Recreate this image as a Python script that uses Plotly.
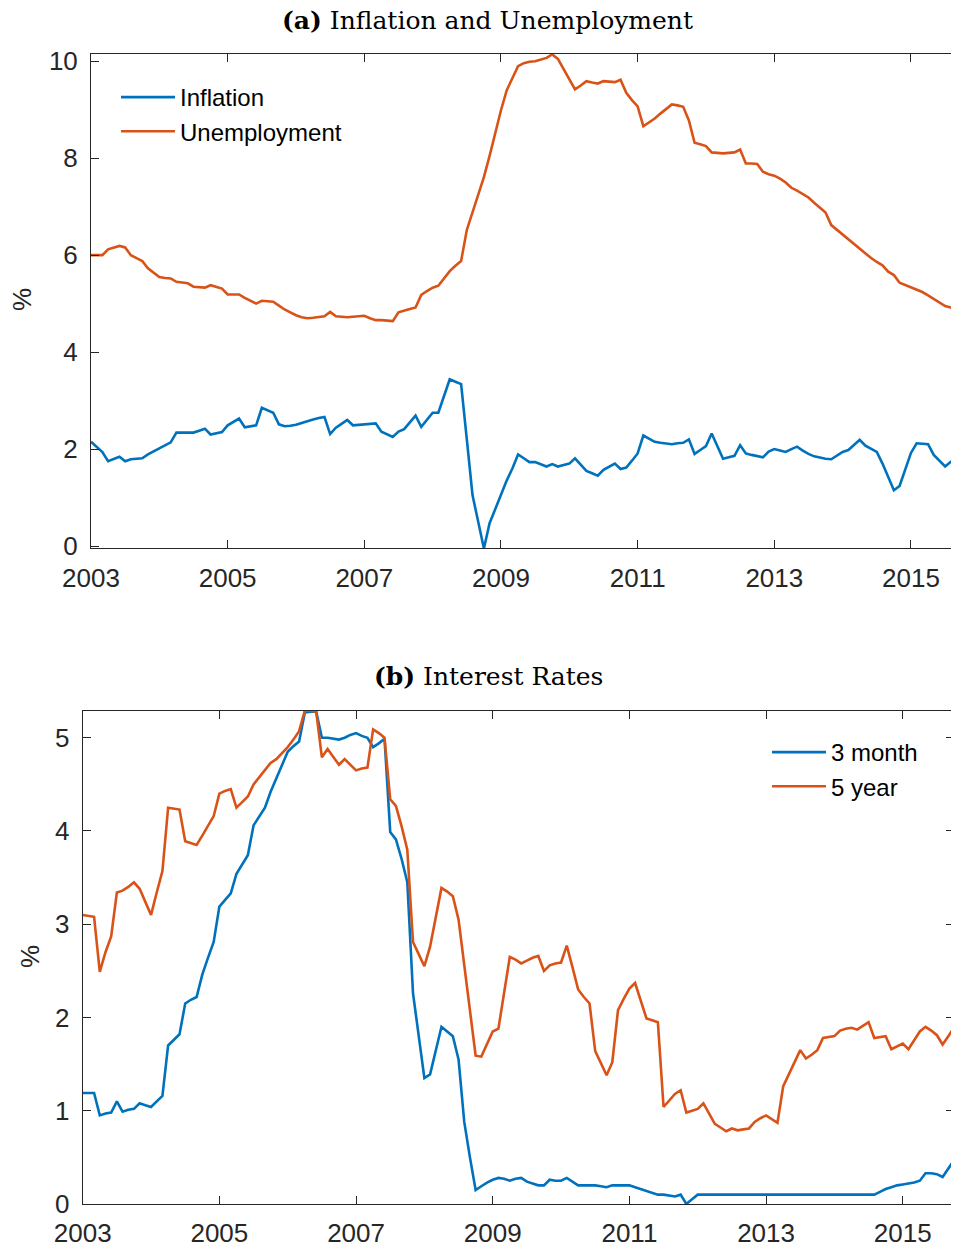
import pandas as pd
import plotly.graph_objects as go

# ---------------- data (monthly, Jan 2003 - Oct 2015) ----------------
months = pd.date_range("2003-01-01", periods=154, freq="MS")

inflation = [
    2.15, 2.05, 1.94, 1.75, 1.80, 1.84, 1.75, 1.79, 1.80, 1.81, 1.89, 1.95,
    2.01, 2.08, 2.14, 2.34, 2.34, 2.34, 2.34, 2.38, 2.42, 2.30, 2.33, 2.35,
    2.49, 2.56, 2.63, 2.45, 2.47, 2.49, 2.85, 2.80, 2.75, 2.51, 2.47, 2.48,
    2.50, 2.54, 2.58, 2.61, 2.64, 2.66, 2.31, 2.44, 2.52, 2.60, 2.49, 2.50,
    2.50, 2.52, 2.53, 2.36, 2.30, 2.25, 2.36, 2.41, 2.55, 2.69, 2.46, 2.60,
    2.75, 2.75, 3.10, 3.44, 3.39, 3.34, 2.20, 1.05, 0.50, -0.05, 0.47, 0.77,
    1.05, 1.35, 1.60, 1.89, 1.81, 1.73, 1.73, 1.68, 1.64, 1.69, 1.64, 1.67,
    1.70, 1.81, 1.68, 1.55, 1.50, 1.45, 1.57, 1.63, 1.70, 1.59, 1.62, 1.76,
    1.91, 2.28, 2.21, 2.15, 2.13, 2.11, 2.10, 2.12, 2.13, 2.20, 1.90, 1.98,
    2.06, 2.32, 2.06, 1.80, 1.83, 1.86, 2.08, 1.91, 1.88, 1.86, 1.83, 1.95,
    2.00, 1.97, 1.94, 2.00, 2.05, 1.97, 1.90, 1.85, 1.82, 1.80, 1.79, 1.86,
    1.94, 1.98, 2.08, 2.19, 2.07, 2.01, 1.94, 1.70, 1.42, 1.15, 1.24, 1.58,
    1.92, 2.12, 2.11, 2.10, 1.88, 1.76, 1.64, 1.74, 1.74, 1.74,
]

unemployment = [
    6.00, 6.00, 6.00, 6.12, 6.16, 6.19, 6.16, 6.00, 5.94, 5.88, 5.73, 5.64,
    5.55, 5.53, 5.52, 5.45, 5.44, 5.42, 5.35, 5.34, 5.33, 5.38, 5.34, 5.31,
    5.19, 5.19, 5.19, 5.12, 5.06, 5.00, 5.06, 5.05, 5.04, 4.96, 4.88, 4.82,
    4.76, 4.72, 4.70, 4.71, 4.73, 4.74, 4.83, 4.74, 4.73, 4.72, 4.73, 4.74,
    4.75, 4.70, 4.66, 4.66, 4.65, 4.64, 4.82, 4.86, 4.89, 4.92, 5.18, 5.26,
    5.33, 5.37, 5.52, 5.67, 5.78, 5.88, 6.52, 6.90, 7.25, 7.61, 8.05, 8.55,
    8.99, 9.40, 9.65, 9.90, 9.96, 9.99, 10.00, 10.03, 10.07, 10.14, 10.05, 9.84,
    9.63, 9.42, 9.50, 9.59, 9.56, 9.54, 9.59, 9.58, 9.57, 9.62, 9.35, 9.20,
    9.07, 8.66, 8.74, 8.82, 8.92, 9.02, 9.11, 9.09, 9.06, 8.78, 8.32, 8.29,
    8.25, 8.12, 8.11, 8.10, 8.11, 8.12, 8.18, 7.89, 7.89, 7.88, 7.72, 7.67,
    7.64, 7.58, 7.50, 7.39, 7.33, 7.26, 7.19, 7.08, 6.98, 6.88, 6.62, 6.52,
    6.43, 6.33, 6.22, 6.12, 6.03, 5.94, 5.86, 5.79, 5.66, 5.59, 5.43, 5.38,
    5.34, 5.29, 5.24, 5.17, 5.10, 5.02, 4.95, 4.92, 4.88, 4.86,
]

rate_3m = [
    1.19, 1.19, 1.19, 0.95, 0.97, 0.98, 1.10, 0.99, 1.01, 1.02, 1.08, 1.06,
    1.04, 1.10, 1.16, 1.70, 1.76, 1.82, 2.15, 2.19, 2.22, 2.46, 2.64, 2.81,
    3.19, 3.26, 3.33, 3.54, 3.64, 3.74, 4.06, 4.15, 4.25, 4.42, 4.56, 4.71,
    4.85, 4.91, 4.96, 5.27, 5.28, 5.28, 5.00, 5.00, 4.99, 4.98, 5.00, 5.03,
    5.05, 5.02, 5.00, 4.90, 4.94, 4.99, 3.99, 3.91, 3.70, 3.45, 2.26, 1.80,
    1.35, 1.39, 1.65, 1.90, 1.85, 1.80, 1.55, 0.88, 0.50, 0.15, 0.19, 0.23,
    0.26, 0.28, 0.27, 0.25, 0.27, 0.28, 0.24, 0.22, 0.20, 0.20, 0.26, 0.25,
    0.25, 0.28, 0.24, 0.20, 0.20, 0.20, 0.20, 0.19, 0.18, 0.20, 0.20, 0.20,
    0.20, 0.18, 0.16, 0.14, 0.12, 0.10, 0.10, 0.09, 0.08, 0.10, 0.00, 0.05,
    0.10, 0.10, 0.10, 0.10, 0.10, 0.10, 0.10, 0.10, 0.10, 0.10, 0.10, 0.10,
    0.10, 0.10, 0.10, 0.10, 0.10, 0.10, 0.10, 0.10, 0.10, 0.10, 0.10, 0.10,
    0.10, 0.10, 0.10, 0.10, 0.10, 0.10, 0.10, 0.10, 0.13, 0.16, 0.18, 0.20,
    0.21, 0.22, 0.23, 0.25, 0.33, 0.33, 0.32, 0.29, 0.38, 0.47,
]

rate_5y = [
    3.10, 3.09, 3.08, 2.49, 2.70, 2.87, 3.34, 3.36, 3.40, 3.45, 3.38, 3.24,
    3.10, 3.34, 3.57, 4.25, 4.24, 4.23, 3.89, 3.87, 3.85, 3.95, 4.05, 4.16,
    4.40, 4.43, 4.45, 4.25, 4.31, 4.37, 4.50, 4.58, 4.66, 4.73, 4.77, 4.83,
    4.90, 4.98, 5.07, 5.29, 5.29, 5.28, 4.79, 4.88, 4.80, 4.71, 4.77, 4.71,
    4.65, 4.67, 4.68, 5.09, 5.05, 5.00, 4.34, 4.27, 4.05, 3.80, 2.81, 2.68,
    2.55, 2.76, 3.08, 3.39, 3.35, 3.30, 3.05, 2.57, 2.08, 1.59, 1.58, 1.72,
    1.85, 1.88, 2.27, 2.65, 2.62, 2.58, 2.61, 2.64, 2.66, 2.50, 2.56, 2.58,
    2.59, 2.77, 2.54, 2.30, 2.22, 2.15, 1.64, 1.51, 1.38, 1.52, 2.08, 2.20,
    2.31, 2.37, 2.18, 1.99, 1.97, 1.95, 1.04, 1.11, 1.18, 1.22, 0.98, 1.00,
    1.02, 1.08, 0.97, 0.86, 0.82, 0.78, 0.81, 0.79, 0.80, 0.81, 0.88, 0.92,
    0.95, 0.91, 0.87, 1.26, 1.39, 1.52, 1.65, 1.56, 1.60, 1.65, 1.78, 1.79,
    1.80, 1.86, 1.88, 1.89, 1.87, 1.91, 1.95, 1.78, 1.79, 1.80, 1.66, 1.69,
    1.72, 1.66, 1.76, 1.85, 1.90, 1.86, 1.81, 1.71, 1.80, 1.89,
]

year_ticks = [2003, 2005, 2007, 2009, 2011, 2013, 2015]
year_labels = ["2003", "2005", "2007", "2009", "2011", "2013", "2015"]

# decimal-year position of each monthly observation
t = list(months.year + (months.month - 1) / 12.0)

BLUE = "#0072BD"
ORANGE = "#D95319"
AX = "#262626"

# page body has an 8px margin; size the figure so the page does not scroll
OFF = 8
W, H = 959 - OFF, 1253 - 2 * OFF

fig = go.Figure()
fig.add_trace(go.Scatter(x=t, y=inflation, mode="lines", name="Inflation",
                         line=dict(color=BLUE, width=2.6), xaxis="x", yaxis="y",
                         legend="legend", legendgroup="a1"))
fig.add_trace(go.Scatter(x=t, y=unemployment, mode="lines", name="Unemployment",
                         line=dict(color=ORANGE, width=2.6), xaxis="x", yaxis="y",
                         legend="legend", legendgroup="a2"))
fig.add_trace(go.Scatter(x=t, y=rate_3m, mode="lines", name="3 month",
                         line=dict(color=BLUE, width=2.6), xaxis="x2", yaxis="y2",
                         legend="legend2", legendgroup="b1"))
fig.add_trace(go.Scatter(x=t, y=rate_5y, mode="lines", name="5 year",
                         line=dict(color=ORANGE, width=2.6), xaxis="x2", yaxis="y2",
                         legend="legend2", legendgroup="b2"))

tickfont = dict(family="Liberation Sans, Arial, sans-serif", size=26, color=AX)
common_axis = dict(showline=True, linecolor=AX, linewidth=1, mirror="ticks",
                   ticks="inside", ticklen=8, tickcolor=AX, tickwidth=1,
                   showgrid=False, zeroline=False, tickfont=tickfont,
                   automargin=False)

def px_x(p):
    return (p - OFF) / W

def px_y(p):
    return 1 - (p - OFF) / H

fig.update_layout(
    template="none",
    width=W, height=H,
    margin=dict(l=0, r=0, t=0, b=0, pad=0, autoexpand=False),
    paper_bgcolor="white", plot_bgcolor="white",
    showlegend=True,
    xaxis=dict(domain=[px_x(91), 1.0], range=[2003, 2015.703], anchor="y",
               tickvals=year_ticks, ticktext=year_labels, ticklabelstandoff=6,
               **common_axis),
    yaxis=dict(domain=[px_y(548.3), px_y(54)], range=[-0.047, 10.15], anchor="x",
               tickvals=[0, 2, 4, 6, 8, 10], ticklabelstandoff=7, **common_axis),
    xaxis2=dict(domain=[px_x(82.7), px_x(954)], range=[2003, 2015.75], anchor="y2",
                tickvals=year_ticks, ticktext=year_labels, ticklabelstandoff=6,
                **common_axis),
    yaxis2=dict(domain=[px_y(1204), px_y(710.7)], range=[0, 5.29], anchor="x2",
                tickvals=[0, 1, 2, 3, 4, 5], ticklabelstandoff=7, **common_axis),
    legend=dict(x=px_x(116), y=px_y(75), xanchor="left", yanchor="top",
                bgcolor="rgba(0,0,0,0)", borderwidth=0, itemwidth=54, tracegroupgap=0,
                font=dict(family="Liberation Sans, Arial, sans-serif", size=24, color="black")),
    legend2=dict(x=px_x(767), y=px_y(730), xanchor="left", yanchor="top",
                 bgcolor="rgba(0,0,0,0)", borderwidth=0, itemwidth=54, tracegroupgap=0,
                 font=dict(family="Liberation Sans, Arial, sans-serif", size=24, color="black")),
)

title_font = dict(family="DejaVu Serif, Liberation Serif, serif", size=25, color="black")
fig.add_annotation(text="<b>(a)</b> Inflation and Unemployment", x=px_x(487), y=px_y(20),
                   xref="paper", yref="paper", showarrow=False, font=title_font,
                   xanchor="center", yanchor="middle")
fig.add_annotation(text="<b>(b)</b> Interest Rates", x=px_x(489), y=px_y(676),
                   xref="paper", yref="paper", showarrow=False, font=title_font,
                   xanchor="center", yanchor="middle")

label_font = dict(family="Liberation Sans, Arial, sans-serif", size=26, color=AX)
fig.add_annotation(text="%", x=px_x(22), y=px_y(300), xref="paper", yref="paper",
                   showarrow=False, textangle=-90, font=label_font,
                   xanchor="center", yanchor="middle")
fig.add_annotation(text="%", x=px_x(30), y=px_y(957), xref="paper", yref="paper",
                   showarrow=False, textangle=-90, font=label_font,
                   xanchor="center", yanchor="middle")

fig.write_html("out.html")
